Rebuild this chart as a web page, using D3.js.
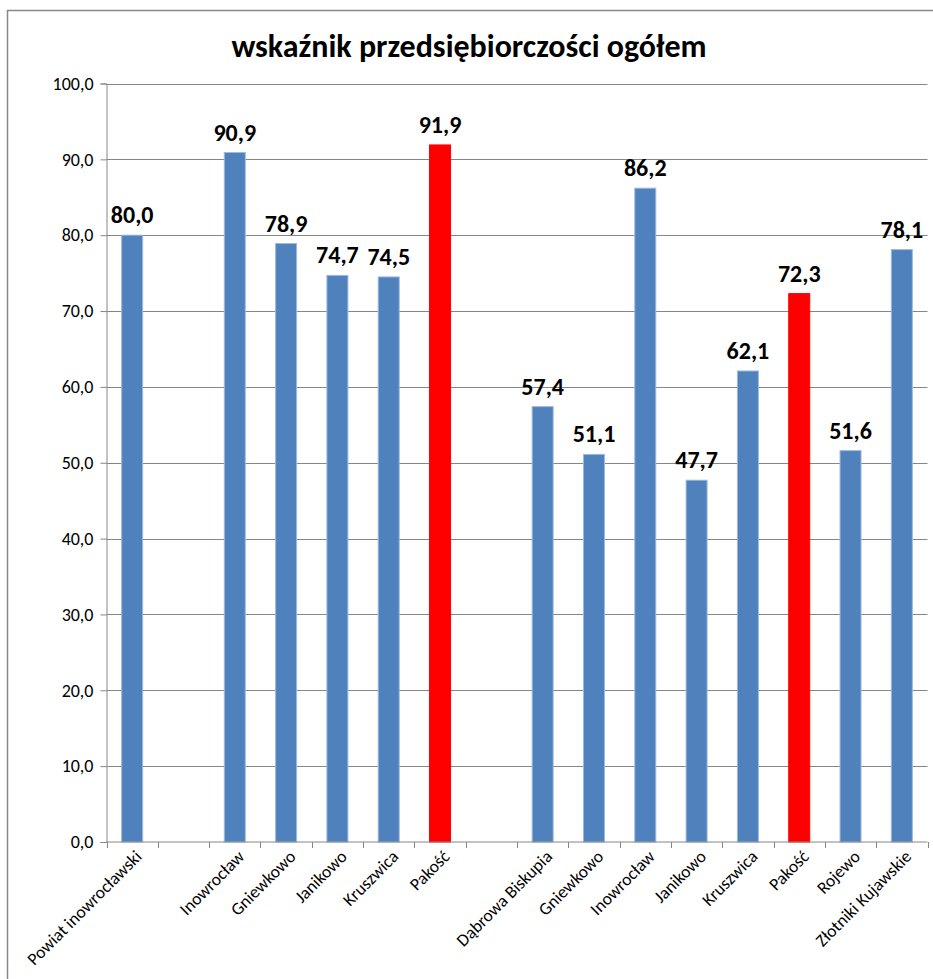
<!DOCTYPE html>
<html>
<head>
<meta charset="utf-8">
<script src="https://cdn.jsdelivr.net/npm/d3@7"></script>
<style>
  body { margin: 0; background: #fff; }
  svg { display: block; }
</style>
</head>
<body>
<svg width="933" height="979"></svg>
<script>
// kategorie (puste miejsca = odstęp między grupami)
const categories = ['Powiat inowrocławski', '', 'Inowrocław', 'Gniewkowo', 'Janikowo', 'Kruszwica', 'Pakość', ' ',
  'Dąbrowa Biskupia', 'Gniewkowo ', 'Inowrocław ', 'Janikowo ', 'Kruszwica ', 'Pakość ', 'Rojewo', 'Złotniki Kujawskie'];
const values = [80.0, null, 90.9, 78.9, 74.7, 74.5, 91.9, null, 57.4, 51.1, 86.2, 47.7, 62.1, 72.3, 51.6, 78.1];
const highlight = [false, false, false, false, false, false, true, false, false, false, false, false, false, true, false, false];
const yTicks = [0, 10, 20, 30, 40, 50, 60, 70, 80, 90, 100];
const title = 'wskaźnik przedsiębiorczości ogółem';

const fmt = v => v.toFixed(1).replace('.', ',');

const svg = d3.select('svg');
const font = 'Calibri, Carlito, "Open Sans", sans-serif';

// ramka wykresu
svg.append('rect')
  .attr('x', 7.5).attr('y', 10.5)
  .attr('width', 940).attr('height', 980)
  .attr('fill', 'none').attr('stroke', '#888').attr('stroke-width', 1.5);

const pLeft = 106.5, pRight = 927.5, pTop = 83.5, pBottom = 842;

const x = d3.scaleBand().domain(categories).range([pLeft, pRight]).paddingInner(0).paddingOuter(0);
const y = d3.scaleLinear().domain([0, 100]).range([pBottom, pTop]);

svg.append('text')
  .attr('x', 469).attr('y', 57)
  .attr('text-anchor', 'middle')
  .style('font-family', font).style('font-weight', 'bold').style('font-size', '32px')
  .text(title);

// siatka
svg.append('g').selectAll('line').data(yTicks.filter(d => d > 0)).enter().append('line')
  .attr('x1', pLeft).attr('x2', pRight)
  .attr('y1', d => Math.round(y(d)) + 0.5).attr('y2', d => Math.round(y(d)) + 0.5)
  .attr('stroke', '#868686').attr('stroke-width', 1);

// oś Y
const yAxis = svg.append('g').attr('transform', 'translate(' + pLeft + ',0)')
  .call(d3.axisLeft(y).tickValues(yTicks).tickSize(6).tickPadding(7).tickFormat(fmt));
yAxis.select('.domain').attr('stroke', '#868686');
yAxis.selectAll('.tick line').attr('stroke', '#868686');
yAxis.selectAll('.tick text').style('font-family', font).style('font-size', '18px').attr('fill', '#000');

// słupki
const barW = 21;
const bars = categories.map((c, i) => ({ c: c, v: values[i], hl: highlight[i] })).filter(d => d.v !== null);

svg.append('g').selectAll('rect').data(bars).enter().append('rect')
  .attr('x', d => x(d.c) + x.bandwidth() / 2 - barW / 2)
  .attr('y', d => y(d.v))
  .attr('width', barW)
  .attr('height', d => y(0) - y(d.v))
  .attr('fill', d => d.hl ? '#FF0000' : '#4F81BD')
  .attr('stroke', d => d.hl ? '#FF0000' : '#9DB9DE').attr('stroke-width', 1);

svg.append('g').selectAll('text').data(bars).enter().append('text')
  .attr('x', d => x(d.c) + x.bandwidth() / 2)
  .attr('y', d => y(d.v) - 12)
  .attr('text-anchor', 'middle')
  .style('font-family', font).style('font-weight', 'bold').style('font-size', '24px')
  .text(d => fmt(d.v));

// oś X
const xAxis = svg.append('g').attr('transform', 'translate(0,' + pBottom + ')');
xAxis.append('line').attr('x1', pLeft).attr('x2', pRight).attr('stroke', '#868686');
xAxis.selectAll('.tk').data(d3.range(categories.length + 1)).enter().append('line')
  .attr('x1', i => Math.round(pLeft + i * x.step()) + 0.5)
  .attr('x2', i => Math.round(pLeft + i * x.step()) + 0.5)
  .attr('y1', 0).attr('y2', 6).attr('stroke', '#868686');

xAxis.selectAll('.lbl').data(categories.filter(c => c.trim() !== '')).enter().append('text')
  .attr('transform', c => 'translate(' + (x(c) + x.bandwidth() / 2 + 2) + ',7) rotate(-45)')
  .attr('text-anchor', 'end')
  .attr('dy', '0.7em')
  .style('font-family', font).style('font-size', '17.5px')
  .text(c => c.trim());
</script>
</body>
</html>
